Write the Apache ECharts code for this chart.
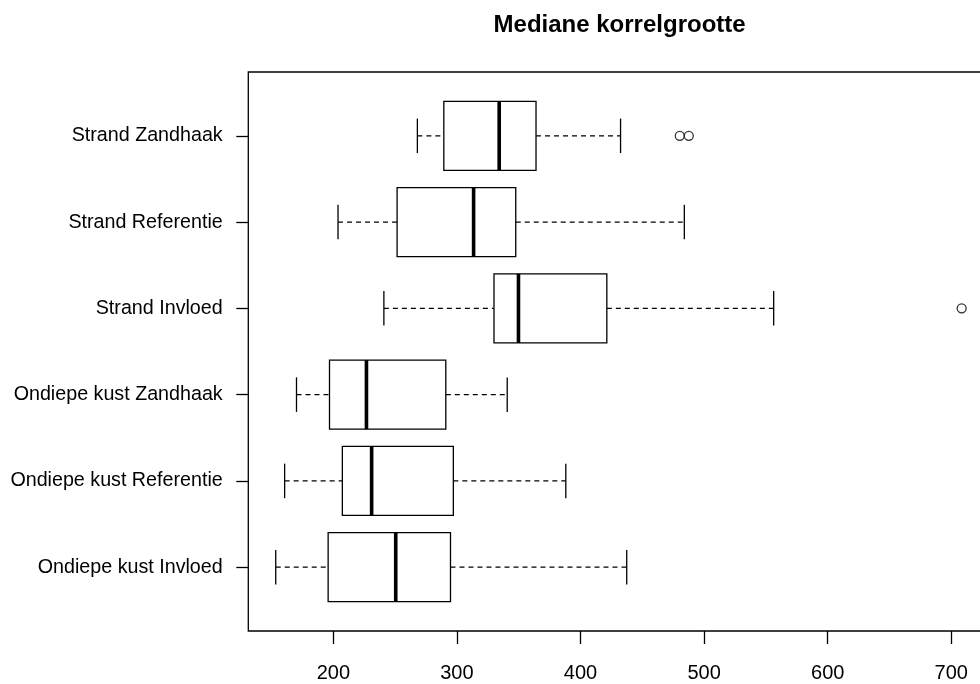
<!DOCTYPE html>
<html>
<head>
<meta charset="utf-8">
<script src="https://cdn.jsdelivr.net/npm/echarts@6/dist/echarts.min.js"></script>
<style>
  html, body { margin: 0; padding: 0; background: #fff; }
  #chart { width: 980px; height: 684px; }
</style>
</head>
<body>
<div id="chart"></div>
<script>
// Groups, bottom to top
const categories = [
  'Ondiepe kust Invloed',
  'Ondiepe kust Referentie',
  'Ondiepe kust Zandhaak',
  'Strand Invloed',
  'Strand Referentie',
  'Strand Zandhaak'
];
// Five-number summaries per group
const lowerWhisker = [153.4, 160.6, 170.2, 240.9, 203.8, 268.0];
const quartile1    = [195.8, 207.3, 196.9, 330.0, 251.6, 289.4];
const medians      = [250.5, 231.0, 226.8, 349.8, 313.5, 334.2];
const quartile3    = [294.8, 297.1, 291.0, 421.3, 347.6, 364.0];
const upperWhisker = [437.4, 388.1, 340.7, 556.3, 484.0, 432.4];
// Outlying observations: group index and value
const outlierGroup = [3, 5, 5];
const outlierValue = [708.4, 480.3, 487.6];
// Axis ticks
const xTicks = [200, 300, 400, 500, 600, 700];
const yTicks = [1, 2, 3, 4, 5, 6];

const FONT = "'Liberation Sans', Arial, Helvetica, sans-serif";
const LW = 1.3;

const boxRows = categories.map((c, i) => [
  i + 1, lowerWhisker[i], quartile1[i], medians[i], quartile3[i], upperWhisker[i]
]);
const outlierRows = outlierGroup.map((g, i) => [outlierValue[i], g + 1]);

function renderBox(params, api) {
  const y = api.value(0);
  const lo = api.value(1), q1 = api.value(2), med = api.value(3),
        q3 = api.value(4), hi = api.value(5);
  const unit = api.size([0, 1])[1];
  const boxHalf = 0.4 * unit;
  const stapleHalf = 0.2 * unit;
  const pt = v => api.coord([v, y]);
  const pLo = pt(lo), pQ1 = pt(q1), pMed = pt(med), pQ3 = pt(q3), pHi = pt(hi);
  const cy = pLo[1];
  const line = (x1, y1, x2, y2, style) => ({
    type: 'line',
    shape: { x1: x1, y1: y1, x2: x2, y2: y2 },
    style: Object.assign({ stroke: '#000', lineWidth: LW }, style || {})
  });
  const dashed = { lineDash: [5, 4] };
  return {
    type: 'group',
    children: [
      line(pLo[0], cy, pQ1[0], cy, dashed),
      line(pQ3[0], cy, pHi[0], cy, dashed),
      line(pLo[0], cy - stapleHalf, pLo[0], cy + stapleHalf),
      line(pHi[0], cy - stapleHalf, pHi[0], cy + stapleHalf),
      {
        type: 'rect',
        shape: { x: pQ1[0], y: cy - boxHalf, width: pQ3[0] - pQ1[0], height: 2 * boxHalf },
        style: { fill: '#fff', stroke: '#000', lineWidth: LW }
      },
      line(pMed[0], cy - boxHalf, pMed[0], cy + boxHalf, { lineWidth: 3.6 })
    ]
  };
}

const chart = echarts.init(document.getElementById('chart'), null, { renderer: 'canvas' });
chart.setOption({
  animation: false,
  backgroundColor: '#fff',
  textStyle: { fontFamily: FONT },
  graphic: [{
    type: 'text',
    x: 619.6,
    y: 25,
    style: {
      text: 'Mediane korrelgrootte',
      font: 'bold 24px ' + FONT,
      fill: '#000',
      align: 'center',
      verticalAlign: 'middle'
    }
  }],
  grid: {
    left: 248.3,
    top: 72,
    width: 740.3,
    height: 559,
    outerBoundsMode: 'none',
    containLabel: false,
    show: true,
    borderColor: '#000',
    borderWidth: LW,
    backgroundColor: 'transparent'
  },
  xAxis: {
    type: 'value',
    min: 131.2,
    max: 730.2,
    axisLine: { show: false },
    splitLine: { show: false },
    axisTick: {
      show: true,
      customValues: xTicks,
      length: 13,
      lineStyle: { color: '#000', width: LW }
    },
    axisLabel: {
      customValues: xTicks,
      margin: 32,
      color: '#000',
      fontSize: 20,
      fontFamily: FONT
    }
  },
  yAxis: {
    type: 'value',
    min: 0.26,
    max: 6.74,
    axisLine: { show: false },
    splitLine: { show: false },
    axisTick: {
      show: true,
      customValues: yTicks,
      length: 12,
      lineStyle: { color: '#000', width: LW }
    },
    axisLabel: {
      customValues: yTicks,
      margin: 25.6,
      color: '#000',
      fontSize: 19.7,
      fontFamily: FONT,
      formatter: v => categories[Math.round(v) - 1]
    }
  },
  series: [
    {
      type: 'custom',
      renderItem: renderBox,
      encode: { x: [1, 2, 3, 4, 5], y: 0 },
      data: boxRows,
      clip: false
    },
    {
      type: 'scatter',
      data: outlierRows,
      symbol: 'circle',
      symbolSize: 9,
      itemStyle: { color: '#fff', borderColor: '#000', borderWidth: LW },
      z: 3
    }
  ]
});
</script>
</body>
</html>
